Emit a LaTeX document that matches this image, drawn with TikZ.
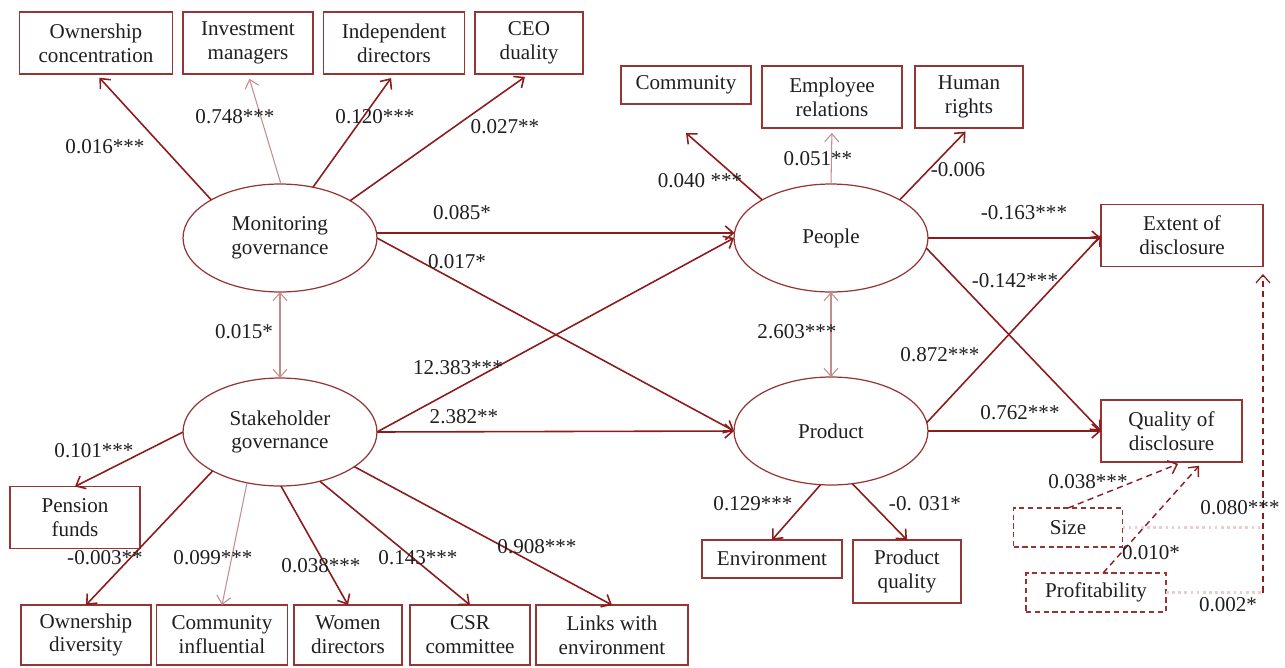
\documentclass[tikz,border=0pt]{standalone}
\usepackage{fontspec}
\setmainfont{Liberation Serif}
\usetikzlibrary{shapes.geometric,arrows.meta}
\definecolor{boxred}{RGB}{150,54,52}
\definecolor{linered}{RGB}{140,28,28}
\definecolor{palered}{RGB}{196,140,138}
\definecolor{dotpink}{RGB}{234,205,205}

\begin{document}
\begin{tikzpicture}[x=0.02cm, y=-0.02cm,
  every node/.style={font=\fontsize{12}{13.6}\selectfont, text=black!88, inner sep=1pt, outer sep=0pt},
  box/.style={draw=boxred, line width=0.7pt, align=center, minimum height=1.24cm},
  sbox/.style={draw=boxred, line width=0.7pt, minimum height=0.76cm},
  cbox/.style={draw=boxred, line width=0.7pt, dash pattern=on 3pt off 2pt, minimum height=0.78cm},
  latent/.style={ellipse, draw=boxred, line width=0.7pt, align=center, minimum width=3.88cm, minimum height=2.16cm},
  arr/.style={draw=linered, line width=0.9pt, -{Straight Barb[length=1.6mm,width=2.8mm]}},
  parr/.style={draw=palered, line width=0.6pt, -{Straight Barb[length=1.6mm,width=2.8mm]}},
  corr/.style={draw=palered, line width=0.6pt, {Straight Barb[length=1.6mm,width=2.8mm]}-{Straight Barb[length=1.6mm,width=2.8mm]}},
  carr/.style={draw=linered, line width=0.8pt, dash pattern=on 3.5pt off 2.5pt, -{Straight Barb[length=1.6mm,width=2.8mm]}}]

\useasboundingbox (0,0) rectangle (1285,667);

\node[box, minimum width=3.06cm] (oc) at (96,43) {Ownership\\concentration};
\node[box, minimum width=2.6cm] (im) at (248,43) {Investment\\managers};
\node[box, minimum width=2.82cm] (id) at (394,43) {Independent\\directors};
\node[box, minimum width=2.16cm] (ceo) at (529,43) {CEO\\duality};

\node[sbox, minimum width=2.6cm] (com) at (686,85) {Community};
\node[box, minimum width=2.8cm] (er) at (832,97) {Employee\\relations};
\node[box, minimum width=2.16cm] (hr) at (969,97) {Human\\rights};

\node[latent] (mon) at (280,238) {Monitoring\\governance};
\node[latent] (sta) at (280,432) {Stakeholder\\governance};
\node[latent] (peo) at (831,238) {People};
\node[latent] (pro) at (831,431) {Product};

\node[box, minimum width=3.24cm] (ext) at (1182,235.5) {Extent of\\disclosure};
\node[box, minimum width=2.82cm] (qua) at (1171.5,431) {Quality of\\disclosure};

\node[box, minimum width=2.6cm] (pen) at (75,517.5) {Pension\\funds};
\node[box, minimum width=2.6cm, minimum height=1.2cm] (od) at (86,635) {Ownership\\diversity};
\node[box, minimum width=2.62cm, minimum height=1.2cm] (ci) at (222,635) {Community\\influential};
\node[box, minimum width=2.16cm, minimum height=1.2cm] (wd) at (348,635) {Women\\directors};
\node[box, minimum width=2.4cm, minimum height=1.2cm] (csr) at (470,635) {CSR\\committee};
\node[box, minimum width=3.04cm, minimum height=1.2cm] (lwe) at (612,635) {Links with\\environment};

\node[sbox, minimum width=2.8cm] (env) at (772,559) {Environment};
\node[box, minimum width=2.16cm, minimum height=1.26cm] (pq) at (907,571.5) {Product\\quality};

\node[cbox, minimum width=2.18cm] (siz) at (1068,527.5) {Size};
\node[cbox, minimum width=2.8cm] (prf) at (1096,592.5) {Profitability};

\draw[arr, shorten >=1mm] (mon.151.5) -- (oc.south);
\draw[parr, shorten >=1mm] (mon.89) -- (im.south);
\draw[arr, shorten >=1mm] (mon.57) -- (id.south);
\draw[arr, shorten >=1mm] (mon.28.5) -- (ceo.south);
\draw[arr] (mon.3) -- (peo.177);
\draw[arr] (mon.east) -- (pro.west);
\draw[corr] (mon.south) -- (sta.north);

\draw[arr] (sta.east) -- (peo.west);
\draw[arr] (sta.east) -- (pro.west);
\draw[arr] (sta.west) -- (pen.north);
\draw[arr] (sta.-150) -- (od.north);
\draw[parr] (sta.-123) -- (ci.north);
\draw[arr] (sta.-89) -- (wd.north);
\draw[arr] (sta.-51) -- (csr.north);
\draw[arr] (sta.-25) -- (lwe.north);

\draw[arr] (peo.151) -- ([yshift=-0.58cm]com.south);
\draw[parr, shorten >=1mm] (peo.north) -- (er.south);
\draw[arr, shorten >=1mm] (peo.29) -- (hr.south);
\draw[arr] (peo.east) -- (peo.east -| ext.west);
\draw[arr] (peo.-6) -- (qua.west);
\draw[corr] (peo.south) -- (pro.north);

\draw[arr] (pro.5) -- (ext.west);
\draw[arr] (pro.east) -- (qua.west);
\draw[arr] (pro.-101) -- (env.north);
\draw[arr] (pro.-68) -- (pq.north);

\draw[carr, shorten >=1mm] (siz.north) -- (qua.-70);
\draw[carr, shorten >=1mm] (prf.70) -- (qua.-45);
\draw[dotpink, dotted, line width=1.5pt] (siz.east) -- (siz.east -| ext.south east);
\draw[dotpink, dotted, line width=1.5pt] (prf.east) -- (prf.east -| ext.south east);
\draw[carr, line width=0.7pt, shorten >=1.5mm] (prf.east -| ext.south east) -- (ext.south east);

\node (loc) at (105,147) {0.016***};
\node (lim) at (235,117) {0.748***};
\node (lid) at (375,117) {0.120***};
\node (lceo) at (505,127) {0.027**};
\node (lmp) at (462,213) {0.085*};
\node (lmr) at (457,262) {0.017*};
\node (lms) at (244,332) {0.015*};
\node (lsp) at (458,368) {12.383***};
\node (lsr) at (464,417) {2.382**};
\node (lpen) at (94,451) {0.101***};
\node (lod) at (105,558) {-0.003**};
\node (lci) at (213,558) {0.099***};
\node (lwd) at (321,566) {0.038***};
\node (lcsr) at (418,558) {0.143***};
\node (llwe) at (537,547) {0.908***};

\node (lcom) at (700,181) {0.040 ***};
\node (ler) at (818,159) {0.051**};
\node (lhr) at (958,170) {-0.006};
\node (lpe) at (1024,213) {-0.163***};
\node (lpq) at (1015,281) {-0.142***};
\node (lpp) at (797,332) {2.603***};
\node (lre) at (940,355) {0.872***};
\node (lrq) at (1020,413) {0.762***};
\node (lenv) at (753,504) {0.129***};
\node (lprq) at (925,504) {-0. 031*};

\node (lsq) at (1088,482) {0.038***};
\node (lse) at (1240,508) {0.080***};
\node (lfq) at (1151,553) {0.010*};
\node (lfe) at (1228,605) {0.002*};
\end{tikzpicture}
\end{document}
